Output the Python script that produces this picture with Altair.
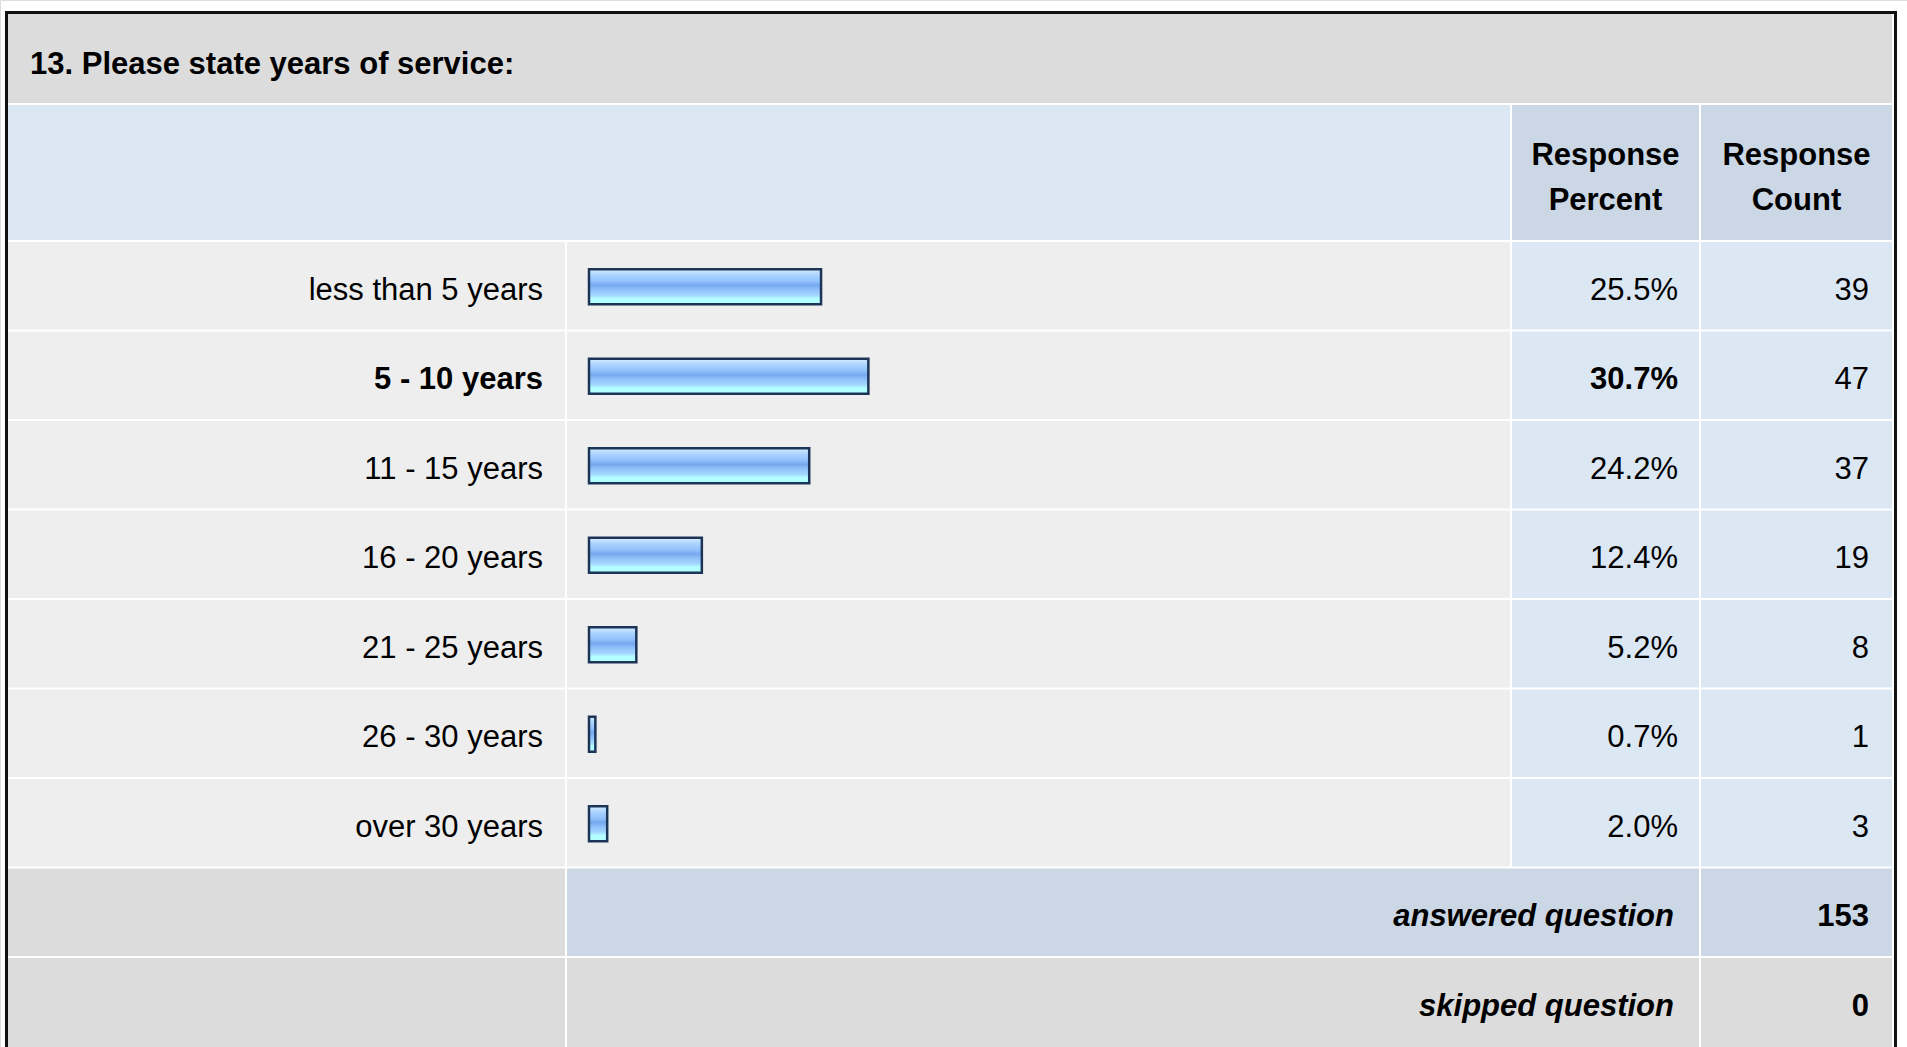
import altair as alt
import pandas as pd

# Survey question 13: years of service
question = "13. Please state years of service:"
categories = [
    "less than 5 years",
    "5 - 10 years",
    "11 - 15 years",
    "16 - 20 years",
    "21 - 25 years",
    "26 - 30 years",
    "over 30 years",
]
percents = [25.5, 30.7, 24.2, 12.4, 5.2, 0.7, 2.0]
counts = [39, 47, 37, 19, 8, 1, 3]
header_percent = ["Response", "Percent"]
header_count = ["Response", "Count"]
footer_labels = ["answered question", "skipped question"]
footer_counts = [153, 0]

# ---- canvas and table grid (pixels) ----
W, H = 1907, 1047
FONT = "Liberation Sans, Arial, Helvetica, sans-serif"
FS = 31
TEXT_DY = 4  # optical centring of text within its cell

LABEL_COL = (8, 565)
BAR_COL = (567, 1510)
PCT_COL = (1512, 1699)
CNT_COL = (1701, 1892)
TITLE_ROW = (14, 103)
HEADER_ROW = (105, 240)
BODY_TOP = 242
STEP = 89.5
GAP = 2

GRAY_TITLE = "#dcdcdc"
BLUE_LIGHT = "#dce7f4"
BLUE_MID = "#cbd7e5"
GRAY_ROW = "#eeeeee"
GRAY_FOOT = "#dcdcdc"

PX = alt.Scale(domain=[0, W], range=[0, W], nice=False, zero=False)
PY = alt.Scale(domain=[0, H], range=[0, H], nice=False, zero=False)
n_rows = len(categories)
ROWS = alt.Scale(
    type="band",
    domain=categories,
    range=[BODY_TOP, BODY_TOP + STEP * n_rows],
    paddingInner=0,
    paddingOuter=0,
)
BAR_X = alt.Scale(domain=[0, 100], range=[589, 589 + 910], nice=False, zero=True)

# ---- background cells ----
cells = [
    (5, 1897, 11, H + 2, "#111111"),          # outer border
    (8, 1894, 14, H + 2, "#ffffff"),          # cell spacing
    (LABEL_COL[0], CNT_COL[1], *TITLE_ROW, GRAY_TITLE),
    (LABEL_COL[0], BAR_COL[1], *HEADER_ROW, BLUE_LIGHT),
    (*PCT_COL, *HEADER_ROW, BLUE_MID),
    (*CNT_COL, *HEADER_ROW, BLUE_MID),
]
for i in range(n_rows):
    y0 = BODY_TOP + i * STEP
    y1 = y0 + STEP - GAP
    cells += [
        (*LABEL_COL, y0, y1, GRAY_ROW),
        (*BAR_COL, y0, y1, GRAY_ROW),
        (*PCT_COL, y0, y1, BLUE_LIGHT),
        (*CNT_COL, y0, y1, BLUE_LIGHT),
    ]
ans_y = (BODY_TOP + n_rows * STEP, BODY_TOP + (n_rows + 1) * STEP - GAP)
skip_y = (BODY_TOP + (n_rows + 1) * STEP, H)
cells += [
    (*LABEL_COL, *ans_y, GRAY_FOOT),
    (BAR_COL[0], PCT_COL[1], *ans_y, BLUE_MID),
    (*CNT_COL, *ans_y, BLUE_MID),
    (*LABEL_COL, *skip_y, GRAY_FOOT),
    (BAR_COL[0], PCT_COL[1], *skip_y, GRAY_FOOT),
    (*CNT_COL, *skip_y, GRAY_FOOT),
]
cell_df = pd.DataFrame(cells, columns=["x0", "x1", "y0", "y1", "fill"])

background = alt.Chart(cell_df).mark_rect().encode(
    x=alt.X("x0:Q", scale=PX, axis=None),
    x2="x1:Q",
    y=alt.Y("y0:Q", scale=PY, axis=None),
    y2="y1:Q",
    fill=alt.Fill("fill:N", scale=None),
)

# ---- response rows ----
top = max(percents)
rows = pd.DataFrame({
    "category": categories,
    "pct": percents,
    "count": counts,
})
rows["pct_label"] = [f"{p:.1f}%" for p in percents]
rows["is_top"] = rows["pct"] == top

bar_fill = alt.Gradient(
    gradient="linear",
    x1=0, x2=0, y1=0, y2=1,
    stops=[
        alt.GradientStop(color="#d6ecff", offset=0.0),
        alt.GradientStop(color="#a9d2ff", offset=0.18),
        alt.GradientStop(color="#93c2fb", offset=0.34),
        alt.GradientStop(color="#76a8ef", offset=0.46),
        alt.GradientStop(color="#8fc0fa", offset=0.58),
        alt.GradientStop(color="#a4d6ff", offset=0.74),
        alt.GradientStop(color="#b4ffff", offset=0.84),
        alt.GradientStop(color="#b4ffff", offset=1.0),
    ],
)

bars = alt.Chart(rows).mark_bar(
    size=35, fill=bar_fill, stroke="#1c3557", strokeWidth=2.5
).encode(
    x=alt.X("pct:Q", scale=BAR_X, axis=None),
    y=alt.Y("category:N", scale=ROWS, axis=None),
)


def row_text(field, x, bold):
    base = alt.Chart(rows).transform_filter(
        alt.datum.is_top if bold else ~alt.datum.is_top
    )
    return base.mark_text(
        align="right", baseline="middle", font=FONT, fontSize=FS, dy=TEXT_DY,
        fontWeight="bold" if bold else "normal", color="#000000",
    ).encode(
        x=alt.value(x),
        y=alt.Y("category:N", scale=ROWS, axis=None),
        text=alt.Text(field),
    )


label_reg = row_text("category:N", 543, False)
label_bold = row_text("category:N", 543, True)
pct_reg = row_text("pct_label:N", 1678, False)
pct_bold = row_text("pct_label:N", 1678, True)
count_text = alt.Chart(rows).mark_text(
    align="right", baseline="middle", font=FONT, fontSize=FS, dy=TEXT_DY,
    color="#000000",
).encode(
    x=alt.value(1869),
    y=alt.Y("category:N", scale=ROWS, axis=None),
    text=alt.Text("count:Q"),
)

# ---- fixed texts: title, column headers, footer ----
title_df = pd.DataFrame({"text": [question], "x": [30], "y": [sum(TITLE_ROW) / 2]})
title = alt.Chart(title_df).mark_text(
    align="left", baseline="middle", font=FONT, fontSize=FS, dy=6,
    fontWeight="bold", color="#000000",
).encode(
    x=alt.X("x:Q", scale=PX, axis=None),
    y=alt.Y("y:Q", scale=PY, axis=None),
    text="text:N",
)

pct_cx = sum(PCT_COL) / 2
cnt_cx = sum(CNT_COL) / 2
header_df = pd.DataFrame({
    "text": header_percent + header_count,
    "x": [pct_cx, pct_cx, cnt_cx, cnt_cx],
    "y": [153, 198, 153, 198],
})
headers = alt.Chart(header_df).mark_text(
    align="center", baseline="middle", font=FONT, fontSize=FS, dy=3,
    fontWeight="bold", color="#000000",
).encode(
    x=alt.X("x:Q", scale=PX, axis=None),
    y=alt.Y("y:Q", scale=PY, axis=None),
    text="text:N",
)

footer_y = [sum(ans_y) / 2, (skip_y[0] + skip_y[0] + STEP - GAP) / 2]
footer_df = pd.DataFrame({
    "label": footer_labels,
    "count": [str(c) for c in footer_counts],
    "y": footer_y,
})
footer_labels_chart = alt.Chart(footer_df).mark_text(
    align="right", baseline="middle", font=FONT, fontSize=FS, dy=TEXT_DY + 1,
    fontWeight="bold", fontStyle="italic", color="#000000",
).encode(
    x=alt.value(1674),
    y=alt.Y("y:Q", scale=PY, axis=None),
    text="label:N",
)
footer_counts_chart = alt.Chart(footer_df).mark_text(
    align="right", baseline="middle", font=FONT, fontSize=FS, dy=TEXT_DY + 1,
    fontWeight="bold", color="#000000",
).encode(
    x=alt.value(1869),
    y=alt.Y("y:Q", scale=PY, axis=None),
    text="count:N",
)

chart = alt.layer(
    background,
    bars,
    label_reg,
    label_bold,
    pct_reg,
    pct_bold,
    count_text,
    title,
    headers,
    footer_labels_chart,
    footer_counts_chart,
).resolve_scale(
    x="independent", y="independent"
).properties(
    width=W, height=H, padding=0, autosize="none"
).configure_view(
    stroke=None
).configure(
    background="#ffffff"
)

chart.save("out.html", embed_options={"renderer": "svg", "actions": False})
